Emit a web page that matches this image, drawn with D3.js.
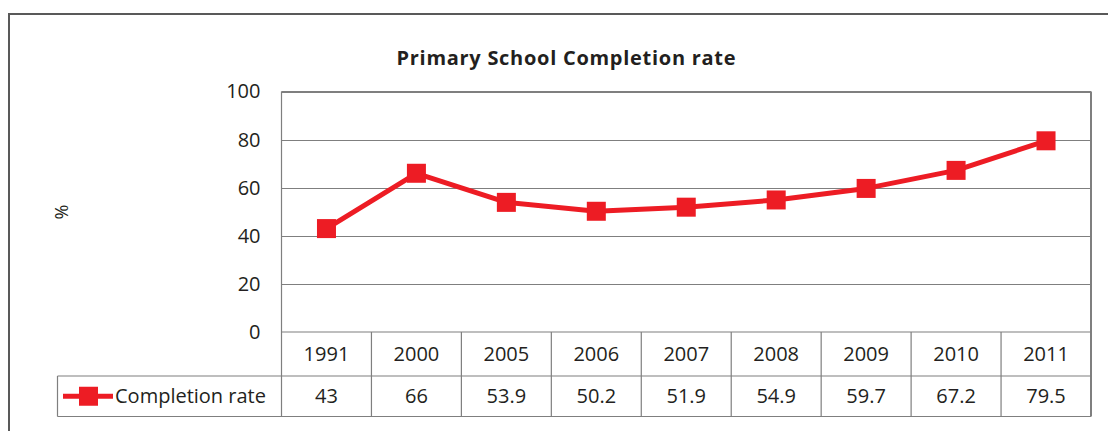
<!DOCTYPE html>
<html>
<head>
<meta charset="utf-8">
<script src="https://cdn.jsdelivr.net/npm/d3@7"></script>
<style>
  body { margin: 0; background: #fff; }
  svg text { font-family: "Open Sans", "Noto Sans", sans-serif; fill: #231f20; }
</style>
</head>
<body>
<svg width="1108" height="431"></svg>
<script>
// data
var years = ['1991','2000','2005','2006','2007','2008','2009','2010','2011'];
var rates = [43, 66, 53.9, 50.2, 51.9, 54.9, 59.7, 67.2, 79.5];
var rateLabels = ['43','66','53.9','50.2','51.9','54.9','59.7','67.2','79.5'];
var yTicks = [0, 20, 40, 60, 80, 100];
var seriesName = 'Completion rate';
var titleText = 'Primary School Completion rate';

var red = '#ed1c24';
var grid = '#7f7f7f';

var svg = d3.select('svg');

// outer frame
svg.append('rect')
    .attr('x', 9).attr('y', 14)
    .attr('width', 1120).attr('height', 440)
    .attr('fill', 'none')
    .attr('stroke', '#595959')
    .attr('stroke-width', 2);

var plotLeft = 281.5, plotRight = 1091, plotTop = 91.5, plotBottom = 332;
var row1 = 376, row2 = 416.5, legLeft = 57.5;

var x = d3.scaleBand().domain(years).range([plotLeft, plotRight]);
var y = d3.scaleLinear().domain([0, 100]).range([plotBottom, plotTop]);

// title
svg.append('text')
    .attr('x', 566).attr('y', 65)
    .attr('text-anchor', 'middle')
    .attr('font-size', 20)
    .attr('font-weight', 'bold')
    .attr('textLength', 339)
    .text(titleText);

// gridlines
svg.append('g').selectAll('line')
    .data(yTicks.filter(function(d){ return d > 0; }))
    .enter().append('line')
    .attr('x1', plotLeft).attr('x2', plotRight)
    .attr('y1', function(d){ return Math.round(y(d)) + 0.5; })
    .attr('y2', function(d){ return Math.round(y(d)) + 0.5; })
    .attr('stroke', grid)
    .attr('stroke-width', 1.2);

// y axis labels
var yAxis = svg.append('g')
    .attr('transform', 'translate(' + plotLeft + ',0)')
    .call(d3.axisLeft(y).tickValues(yTicks).tickSize(0).tickPadding(21));
yAxis.select('.domain').remove();
yAxis.selectAll('text')
    .attr('font-size', 20)
    .attr('font-family', '"Open Sans", "Noto Sans", sans-serif')
    .attr('fill', '#231f20');

svg.append('text')
    .attr('transform', 'translate(68,212) rotate(-90)')
    .attr('text-anchor', 'middle')
    .attr('font-size', 18)
    .text('%');

// table grid
var tg = svg.append('g').attr('stroke', grid).attr('stroke-width', 1.2).attr('fill', 'none');
tg.append('line').attr('x1', plotLeft).attr('x2', plotLeft).attr('y1', plotTop).attr('y2', row2);
tg.append('line').attr('x1', plotRight).attr('x2', plotRight).attr('y1', plotTop).attr('y2', row2).attr('stroke-width', 2);
tg.append('line').attr('x1', plotLeft).attr('x2', plotRight).attr('y1', plotTop).attr('y2', plotTop);
tg.append('line').attr('x1', plotLeft).attr('x2', plotRight).attr('y1', plotBottom).attr('y2', plotBottom);
tg.append('line').attr('x1', legLeft).attr('x2', plotRight).attr('y1', row1).attr('y2', row1);
tg.append('line').attr('x1', legLeft).attr('x2', plotRight).attr('y1', row2).attr('y2', row2);
tg.append('line').attr('x1', legLeft).attr('x2', legLeft).attr('y1', row1).attr('y2', row2);
tg.selectAll('.sep')
    .data(years.slice(1))
    .enter().append('line')
    .attr('class', 'sep')
    .attr('x1', function(d){ return x(d); })
    .attr('x2', function(d){ return x(d); })
    .attr('y1', plotBottom).attr('y2', row2);

// year labels
svg.append('g').selectAll('text')
    .data(years)
    .enter().append('text')
    .attr('x', function(d){ return x(d) + x.bandwidth() / 2; })
    .attr('y', (plotBottom + row1) / 2 + 7)
    .attr('text-anchor', 'middle')
    .attr('font-size', 20)
    .text(function(d){ return d; });

// value labels
svg.append('g').selectAll('text')
    .data(rateLabels)
    .enter().append('text')
    .attr('x', function(d, i){ return x(years[i]) + x.bandwidth() / 2; })
    .attr('y', (row1 + row2) / 2 + 7)
    .attr('text-anchor', 'middle')
    .attr('font-size', 20)
    .text(function(d){ return d; });

// line
var line = d3.line()
    .x(function(d, i){ return x(years[i]) + x.bandwidth() / 2; })
    .y(function(d){ return y(d); });

svg.append('path')
    .datum(rates)
    .attr('d', line)
    .attr('fill', 'none')
    .attr('stroke', red)
    .attr('stroke-width', 5)
    .attr('stroke-linejoin', 'round');

svg.append('g').selectAll('rect')
    .data(rates)
    .enter().append('rect')
    .attr('x', function(d, i){ return x(years[i]) + x.bandwidth() / 2 - 9.5; })
    .attr('y', function(d){ return y(d) - 9.5; })
    .attr('width', 19).attr('height', 19)
    .attr('fill', red);

// legend in table
var ly = (row1 + row2) / 2;
svg.append('line')
    .attr('x1', 63).attr('x2', 113)
    .attr('y1', ly).attr('y2', ly)
    .attr('stroke', red).attr('stroke-width', 5);
svg.append('rect')
    .attr('x', 79).attr('y', ly - 9.5)
    .attr('width', 19).attr('height', 19)
    .attr('fill', red);
svg.append('text')
    .attr('x', 115).attr('y', ly + 7)
    .attr('font-size', 20)
    .text(seriesName);
</script>
</body>
</html>
